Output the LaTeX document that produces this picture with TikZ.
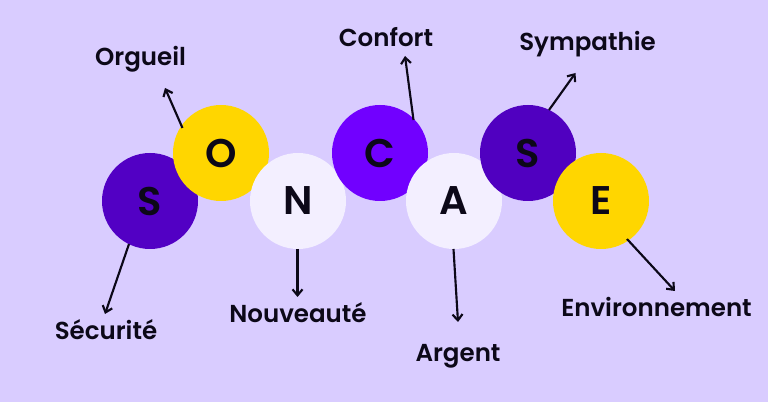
\documentclass[tikz,border=0pt]{standalone}
\usepackage{fontspec}
\setmainfont{Poppins}[BoldFont={* SemiBold}]
\usetikzlibrary{arrows.meta}
\definecolor{bgc}{HTML}{D9CCFF}
\definecolor{dv}{HTML}{5200C4}
\definecolor{yl}{HTML}{FFD600}
\definecolor{wh}{HTML}{F3EFFF}
\definecolor{vi}{HTML}{7100FF}
\definecolor{di}{HTML}{5000C0}
\definecolor{ink}{HTML}{0C0818}
\tikzset{
 ball/.style={circle,minimum size=72pt,inner sep=0pt,text=ink,font=\fontsize{30}{30}\selectfont\bfseries},
 lab/.style={text=ink,inner sep=0pt,anchor=base,font=\fontsize{18.4}{20}\selectfont\bfseries},
 arr/.style={draw=ink,line width=1.6pt,-{Straight Barb[length=4.5pt,width=7.5pt,line width=1.6pt]}}
}
\begin{document}
\begin{tikzpicture}[x=0.75pt,y=-0.75pt]
\useasboundingbox (0,0) rectangle (768,402);
\fill[bgc] (0,0) rectangle (768,402);
\node[ball,fill=dv] (s1) at (150,201) {S};
\node[ball,fill=yl] (o) at (221,153) {O};
\node[ball,fill=wh] (n) at (298,201) {N};
\node[ball,fill=vi] (c) at (380,153) {C};
\node[ball,fill=wh] (a) at (454,201) {A};
\node[ball,fill=di] (s2) at (528,153) {S};
\node[ball,fill=yl] (e) at (601,201) {E};
\node[lab] (t1) at (106,339.5) {Sécurité};
\node[lab] (t2) at (140.5,66) {Orgueil};
\node[lab] (t3) at (298,323) {Nouveauté};
\node[lab] (t4) at (386,47) {Confort};
\node[lab] (t5) at (458,362) {Argent};
\node[lab] (t6) at (587.5,50.5) {Sympathie};
\node[lab] (t7) at (656.5,317) {Environnement};
\coordinate (e1) at (105,314);
\coordinate (b1) at (129,244);
\coordinate (e2) at (165,88);
\coordinate (b2) at (182.5,128);
\coordinate (e3) at (297.5,297);
\coordinate (b3) at (297.5,249);
\coordinate (e4) at (405,56);
\coordinate (b4) at (413.5,120);
\coordinate (e5) at (458,322);
\coordinate (b5) at (453.5,249);
\coordinate (e6) at (575.5,73);
\coordinate (b6) at (549,110);
\coordinate (e7) at (675,291);
\coordinate (b7) at (627,239);
\draw[arr] (b1) -- (e1);
\draw[arr] (b2) -- (e2);
\draw[arr] (b3) -- (e3);
\draw[arr] (b4) -- (e4);
\draw[arr] (b5) -- (e5);
\draw[arr] (b6) -- (e6);
\draw[arr] (b7) -- (e7);
\end{tikzpicture}
\end{document}
